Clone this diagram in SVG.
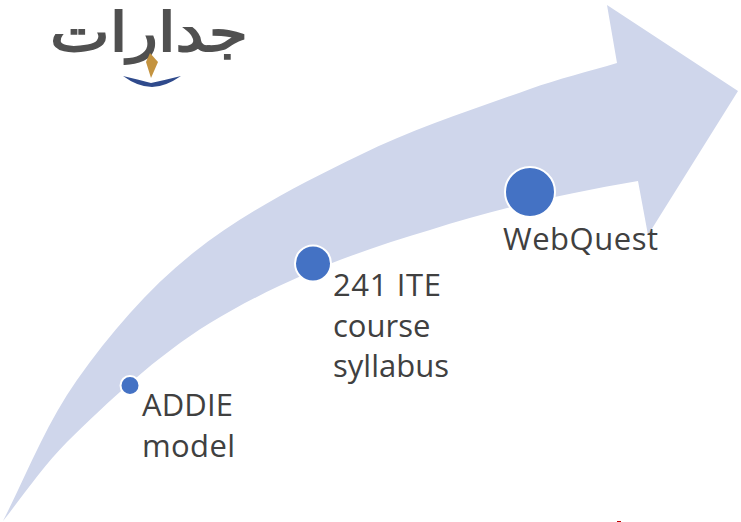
<svg xmlns="http://www.w3.org/2000/svg" width="741" height="522" viewBox="0 0 741 522">
<style>
.lbl{font-family:"Open Sans","Noto Sans",sans-serif;font-size:31px;fill:#404040}
.dot{fill:#4472c4;stroke:#fff;stroke-width:2}
.logo{font-family:"DejaVu Sans",sans-serif;font-size:54px;fill:#505050;stroke:#505050;stroke-width:1.8}
</style>
<rect width="741" height="522" fill="#fff"/>
<g id="connectors">
<path id="arrow" fill="#cfd6eb" d="M3 521C26.9 473.8 46.4 423.2 77 380C110 333.5 148.4 288.5 193 253C243.9 212.6 301.6 183.4 360 155C414.8 128.3 472.6 109.6 530 89C558.2 78.9 588.3 71.6 617 63L607 5L738 91L648 235L638 181C568 193 497.5 208 430 230C354 252 279.3 281 210 323C156.3 356 108 402 67 442C44 465 22 497 3 521Z"/>
</g>
<g id="logo">
<text class="logo" x="149" y="51" text-anchor="middle" direction="rtl" textLength="198" lengthAdjust="spacingAndGlyphs">جدارات</text>
<path fill="#c4933f" d="M150 53L158 62L151 78L146 62Z"/>
<path fill="#2f4a8c" d="M123 76Q140 80 151 83Q165 80 181 76Q165 87 152 87Q138 87 123 76Z"/>
</g>
<g id="node-addie">
<circle class="dot" cx="130" cy="385.5" r="9.5"/>
<text class="lbl" x="142" y="416" textLength="91">ADDIE</text>
<text class="lbl" x="142" y="457" textLength="93">model</text>
</g>
<g id="node-syllabus">
<circle class="dot" cx="313" cy="263.5" r="18"/>
<text class="lbl" x="333" y="296" textLength="108">241 ITE</text>
<text class="lbl" x="333" y="337">course</text>
<text class="lbl" x="333" y="377">syllabus</text>
</g>
<g id="node-webquest">
<circle class="dot" cx="530" cy="192" r="25"/>
<text class="lbl" x="503" y="250" textLength="155">WebQuest</text>
</g>
<rect id="mark" x="617" y="521" width="4" height="1" fill="#c00000"/>
</svg>
